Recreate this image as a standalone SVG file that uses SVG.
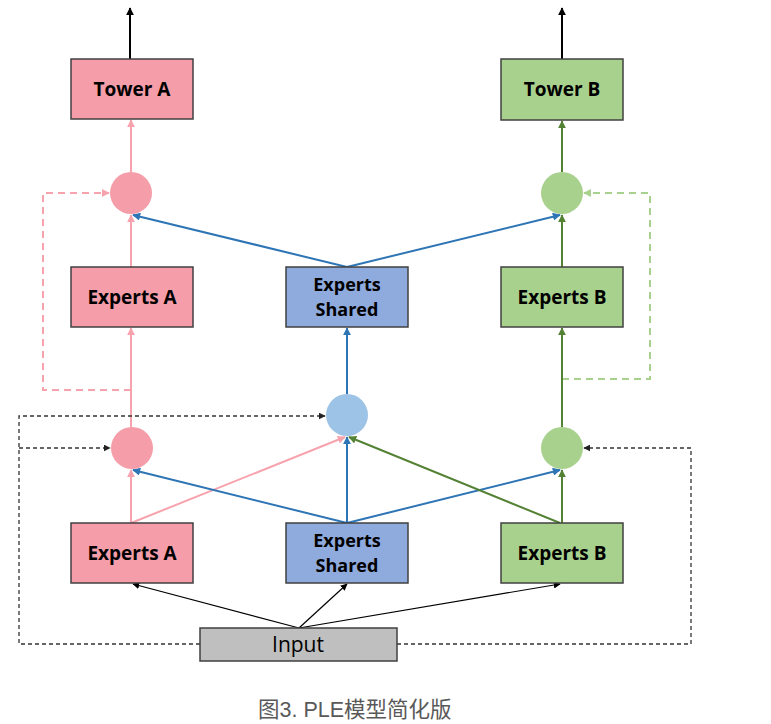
<svg xmlns="http://www.w3.org/2000/svg" width="771" height="724" viewBox="0 0 771 724">
<defs>
<marker id="mBlack" viewBox="0 0 10 10" refX="9" refY="5" markerWidth="7" markerHeight="7" markerUnits="userSpaceOnUse" orient="auto"><path d="M0,0 L10,5 L0,10 z" fill="#000"/></marker>
<marker id="mBlackT" viewBox="0 0 10 10" refX="9" refY="5" markerWidth="8" markerHeight="8" markerUnits="userSpaceOnUse" orient="auto"><path d="M0,0 L10,5 L0,10 z" fill="#000"/></marker>
<marker id="mDash" viewBox="0 0 10 10" refX="9" refY="5" markerWidth="7" markerHeight="7" markerUnits="userSpaceOnUse" orient="auto"><path d="M0,0 L10,5 L0,10 z" fill="#222"/></marker>
<marker id="mPink" viewBox="0 0 10 10" refX="9" refY="5" markerWidth="8" markerHeight="8" markerUnits="userSpaceOnUse" orient="auto"><path d="M0,0 L10,5 L0,10 z" fill="#F7A3AE"/></marker>
<marker id="mBlue" viewBox="0 0 10 10" refX="9" refY="5" markerWidth="8" markerHeight="8" markerUnits="userSpaceOnUse" orient="auto"><path d="M0,0 L10,5 L0,10 z" fill="#2E75B6"/></marker>
<marker id="mGreen" viewBox="0 0 10 10" refX="9" refY="5" markerWidth="8" markerHeight="8" markerUnits="userSpaceOnUse" orient="auto"><path d="M0,0 L10,5 L0,10 z" fill="#548235"/></marker>
<marker id="mLGreen" viewBox="0 0 10 10" refX="9" refY="5" markerWidth="8" markerHeight="8" markerUnits="userSpaceOnUse" orient="auto"><path d="M0,0 L10,5 L0,10 z" fill="#A9D18E"/></marker>
</defs>
<style>
.box{stroke:#404040;stroke-width:1.5}
.pink{fill:#F59DA8}
.green{fill:#A9D18E}
.blue{fill:#8FAADC}
.gray{fill:#BFBFBF}
.lbl{font-family:"Open Sans","Noto Sans","DejaVu Sans",sans-serif;font-weight:bold;font-size:19px;fill:#000;text-anchor:middle}
.lbl2{font-family:"Open Sans","Noto Sans","DejaVu Sans",sans-serif;font-weight:bold;font-size:18px;fill:#000;text-anchor:middle}
.inp{font-family:"Open Sans","Noto Sans","DejaVu Sans",sans-serif;font-size:21px;fill:#000;text-anchor:middle}
.cap{font-family:"Liberation Sans","Noto Sans CJK SC",sans-serif;font-size:21.5px;fill:#595959}
.lp{stroke:#F7A3AE;stroke-width:2;fill:none}
.lb{stroke:#2E75B6;stroke-width:2;fill:none}
.lg{stroke:#548235;stroke-width:2;fill:none}
.lk{stroke:#000;stroke-width:1.2;fill:none}
.dk{stroke:#333;stroke-width:1.3;stroke-dasharray:4,3;fill:none}
.dp{stroke:#F7A3AE;stroke-width:2;stroke-dasharray:7,5;fill:none}
.dg{stroke:#A9D18E;stroke-width:2;stroke-dasharray:7,5;fill:none}
</style>
<g id="connectors">
<line x1="130" y1="59" x2="130" y2="8" stroke="#000" stroke-width="2" marker-end="url(#mBlackT)"/>
<line x1="562" y1="59" x2="562" y2="8" stroke="#000" stroke-width="2" marker-end="url(#mBlackT)"/>
<line class="lp" x1="131" y1="172" x2="131" y2="120" marker-end="url(#mPink)"/>
<line class="lg" x1="562" y1="172" x2="562" y2="121" marker-end="url(#mGreen)"/>
<line class="lp" x1="131" y1="267" x2="131" y2="215" marker-end="url(#mPink)"/>
<line class="lg" x1="562" y1="267" x2="562" y2="215" marker-end="url(#mGreen)"/>
<line class="lb" x1="347" y1="267" x2="133" y2="215" marker-end="url(#mBlue)"/>
<line class="lb" x1="347" y1="267" x2="560" y2="215" marker-end="url(#mBlue)"/>
<polyline class="dp" points="131,390 43,390 43,193 109,193" marker-end="url(#mPink)"/>
<polyline class="dg" points="562,379 650,379 650,193 584,193" marker-end="url(#mLGreen)"/>
<line class="lp" x1="131" y1="427" x2="131" y2="328" marker-end="url(#mPink)"/>
<line class="lb" x1="347" y1="394" x2="347" y2="328" marker-end="url(#mBlue)"/>
<line class="lg" x1="562" y1="427" x2="562" y2="328" marker-end="url(#mGreen)"/>
<line class="lp" x1="131" y1="523" x2="131" y2="470" marker-end="url(#mPink)"/>
<line class="lp" x1="131" y1="523" x2="345" y2="437" marker-end="url(#mPink)"/>
<line class="lb" x1="347" y1="523" x2="133" y2="470" marker-end="url(#mBlue)"/>
<line class="lb" x1="347" y1="523" x2="347" y2="437" marker-end="url(#mBlue)"/>
<line class="lb" x1="347" y1="523" x2="560" y2="470" marker-end="url(#mBlue)"/>
<line class="lg" x1="560" y1="523" x2="349" y2="437" marker-end="url(#mGreen)"/>
<line class="lg" x1="562" y1="523" x2="562" y2="470" marker-end="url(#mGreen)"/>
<line class="lk" x1="299" y1="628" x2="133" y2="584" marker-end="url(#mBlack)"/>
<line class="lk" x1="299" y1="628" x2="347" y2="584" marker-end="url(#mBlack)"/>
<line class="lk" x1="299" y1="628" x2="560" y2="584" marker-end="url(#mBlack)"/>
<polyline class="dk" points="200,644 19,644 19,416 325,416" marker-end="url(#mDash)"/>
<polyline class="dk" points="19,448 110,448" marker-end="url(#mDash)"/>
<polyline class="dk" points="397,644 691,644 691,448 584,448" marker-end="url(#mDash)"/>
</g>
<g id="towerA"><rect class="box pink" x="71" y="59" width="122" height="60"/><text class="lbl" x="132" y="96">Tower A</text></g>
<g id="towerB"><rect class="box green" x="501" y="59" width="122" height="61"/><text class="lbl" x="562" y="96">Tower B</text></g>
<g id="gateA2"><circle cx="131" cy="193" r="21" fill="#F59DA8"/></g>
<g id="gateB2"><circle cx="562" cy="193" r="21" fill="#A9D18E"/></g>
<g id="expertsA2"><rect class="box pink" x="71" y="267" width="122" height="60"/><text class="lbl" x="132" y="304">Experts A</text></g>
<g id="expertsS2"><rect class="box blue" x="286" y="267" width="122" height="60"/><text class="lbl2" x="347" y="291">Experts</text><text class="lbl2" x="347" y="316">Shared</text></g>
<g id="expertsB2"><rect class="box green" x="501" y="267" width="122" height="60"/><text class="lbl" x="562" y="304">Experts B</text></g>
<g id="gateS1"><circle cx="347" cy="415" r="21" fill="#9DC3E6"/></g>
<g id="gateA1"><circle cx="132" cy="448" r="21" fill="#F59DA8"/></g>
<g id="gateB1"><circle cx="562" cy="448" r="21" fill="#A9D18E"/></g>
<g id="expertsA1"><rect class="box pink" x="71" y="523" width="122" height="60"/><text class="lbl" x="132" y="560">Experts A</text></g>
<g id="expertsS1"><rect class="box blue" x="286" y="523" width="122" height="60"/><text class="lbl2" x="347" y="547">Experts</text><text class="lbl2" x="347" y="572">Shared</text></g>
<g id="expertsB1"><rect class="box green" x="501" y="523" width="122" height="60"/><text class="lbl" x="562" y="560">Experts B</text></g>
<g id="input"><rect class="box gray" x="200" y="628" width="197" height="33"/><text class="inp" x="298" y="652">Input</text></g>
<text class="cap" x="258" y="717">图3. PLE模型简化版</text>
</svg>
